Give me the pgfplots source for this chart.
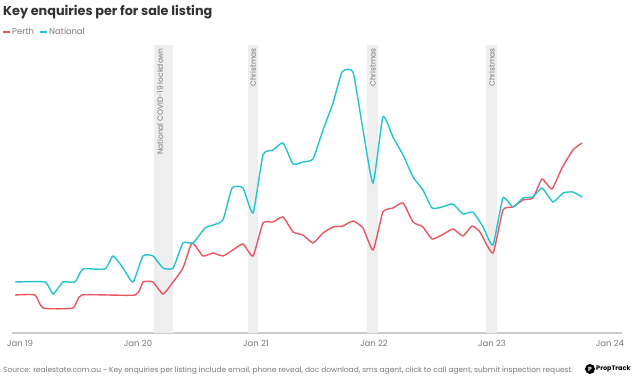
\documentclass[border=0pt]{standalone}
\usepackage{pgfplots}
\pgfplotsset{compat=1.18}
\usepackage{fontspec}
\setmainfont{Poppins}
\definecolor{perth}{RGB}{232,86,96}
\definecolor{natl}{RGB}{34,196,208}
\definecolor{band}{RGB}{238,238,238}
\definecolor{txtgrey}{RGB}{120,120,120}
\definecolor{titlec}{RGB}{50,50,50}
\begin{document}
\begin{tikzpicture}
\path[use as bounding box] (0pt,0pt) rectangle (632pt,381pt);
\node[anchor=base west,inner sep=0,text=titlec,font=\fontsize{12.8}{15}\selectfont\bfseries] at (3pt,365pt) {Key enquiries per for sale listing};
\draw[perth,line width=1.6pt] (3pt,349pt) -- (10pt,349pt);
\node[anchor=base west,inner sep=0,text=txtgrey,font=\fontsize{8.5}{10}\selectfont] at (12pt,346pt) {Perth};
\draw[natl,line width=1.6pt] (40pt,349pt) -- (47pt,349pt);
\node[anchor=base west,inner sep=0,text=txtgrey,font=\fontsize{8.5}{10}\selectfont] at (49pt,346pt) {National};
\begin{axis}[
  at={(12pt,48pt)}, anchor=south west,
  scale only axis, width=610pt, height=288pt,
  xmin=2018.932, xmax=2024.102, ymin=0, ymax=288,
  axis x line*=bottom, axis y line=none,
  x axis line style={draw=black!20, line width=1.3pt},
  xtick={2019,2020,2021,2022,2023,2024},
  xticklabels={Jan 19,Jan 20,Jan 21,Jan 22,Jan 23,Jan 24},
  major tick length=0pt,
  xticklabel style={font=\fontsize{8.5}{10}\selectfont, text=txtgrey, yshift=-4pt},
  clip=false,
]
\addplot[fill=band, draw=none] coordinates {(2020.136,0) (2020.136,288) (2020.297,288) (2020.297,0)} -- cycle;
\addplot[fill=band, draw=none] coordinates {(2020.932,0) (2020.932,288) (2021.017,288) (2021.017,0)} -- cycle;
\addplot[fill=band, draw=none] coordinates {(2021.941,0) (2021.941,288) (2022.034,288) (2022.034,0)} -- cycle;
\addplot[fill=band, draw=none] coordinates {(2022.949,0) (2022.949,288) (2023.042,288) (2023.042,0)} -- cycle;
\node[rotate=90,anchor=east,inner sep=0,text=txtgrey,font=\fontsize{7.5}{9}\selectfont] at (axis cs:2020.186,285) {National COVID-19 lockdown};
\node[rotate=90,anchor=east,inner sep=0,text=txtgrey,font=\fontsize{7.5}{9}\selectfont] at (axis cs:2020.975,285) {Christmas};
\node[rotate=90,anchor=east,inner sep=0,text=txtgrey,font=\fontsize{7.5}{9}\selectfont] at (axis cs:2021.99,285) {Christmas};
\node[rotate=90,anchor=east,inner sep=0,text=txtgrey,font=\fontsize{7.5}{9}\selectfont] at (axis cs:2022.998,285) {Christmas};
\addplot[perth, line width=1.4pt, smooth, tension=0.3] coordinates {
(2018.958,38) (2019.127,38) (2019.195,25) (2019.449,25) (2019.525,38) (2019.975,38)
(2020.042,51) (2020.127,51) (2020.212,39) (2020.297,51) (2020.381,65) (2020.458,90)
(2020.551,77) (2020.636,80) (2020.720,77) (2020.805,83) (2020.890,89) (2020.975,77)
(2021.059,110) (2021.144,111) (2021.229,116) (2021.314,101) (2021.398,98) (2021.483,90)
(2021.568,100) (2021.653,106) (2021.737,107) (2021.822,112) (2021.907,105) (2021.992,83)
(2022.076,121) (2022.161,125) (2022.246,130) (2022.331,111) (2022.415,106) (2022.492,94)
(2022.576,98) (2022.669,104) (2022.754,97) (2022.831,107) (2022.898,101) (2023.008,80)
(2023.093,123) (2023.178,126) (2023.263,133) (2023.347,135) (2023.424,154) (2023.508,144)
(2023.593,165) (2023.686,183) (2023.763,190)
};
\addplot[natl, line width=1.4pt, smooth, tension=0.3] coordinates {
(2018.958,51) (2019.212,51) (2019.280,39) (2019.364,51) (2019.466,51) (2019.534,64)
(2019.720,64) (2019.788,77) (2019.873,65) (2019.958,51) (2020.042,77) (2020.127,77)
(2020.212,65) (2020.297,65) (2020.381,90) (2020.466,90) (2020.568,105) (2020.636,108)
(2020.720,113) (2020.797,145) (2020.890,145) (2020.975,120) (2021.059,178) (2021.144,183)
(2021.229,190) (2021.314,169) (2021.398,171) (2021.483,174) (2021.568,203) (2021.653,230)
(2021.729,261) (2021.822,261) (2021.907,203) (2021.992,150) (2022.076,216) (2022.161,196)
(2022.246,178) (2022.331,156) (2022.415,143) (2022.492,125) (2022.576,126) (2022.669,129)
(2022.754,119) (2022.839,121) (2022.924,106) (2023.008,88) (2023.093,135) (2023.178,126)
(2023.263,135) (2023.347,136) (2023.424,145) (2023.517,131) (2023.602,140) (2023.686,141)
(2023.763,136)
};
\end{axis}
\node[anchor=base west,inner sep=0,text=txtgrey,font=\fontsize{7.45}{9}\selectfont] at (3pt,9pt) {Source: realestate.com.au - Key enquiries per listing include email, phone reveal, doc download, sms agent, click to call agent, submit inspection request.};
\fill[black] (590pt,12pt) circle (5pt);
\node[inner sep=0,text=white,font=\fontsize{6}{6}\selectfont\bfseries] at (590pt,12pt) {P};
\node[anchor=west,inner sep=0,font=\fontsize{6.5}{7}\selectfont\bfseries] at (596pt,12pt) {PropTrack};
\end{tikzpicture}
\end{document}
